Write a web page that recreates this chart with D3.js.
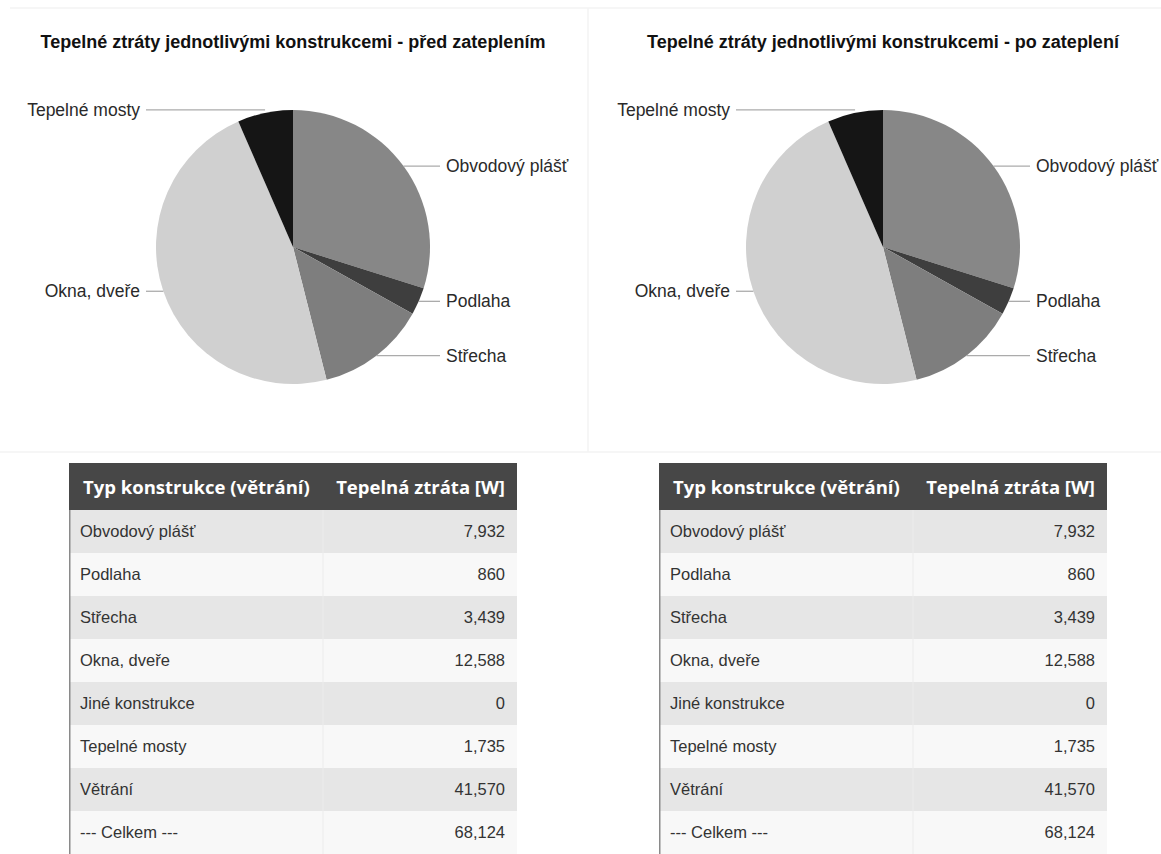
<!DOCTYPE html>
<html>
<head>
<meta charset="utf-8">
<script src="https://cdn.jsdelivr.net/npm/d3@7"></script>
<style>
  body { margin: 0; background: #fff; }
  svg { display: block; }
</style>
</head>
<body>
<svg id="chart" width="1161" height="854"></svg>
<script>
// data
var categories = ["Obvodový plášť", "Podlaha", "Střecha", "Okna, dveře", "Jiné konstrukce", "Tepelné mosty", "Větrání"]
var lossBefore = [7932, 860, 3439, 12588, 0, 1735, 41570]
var lossAfter = [7932, 860, 3439, 12588, 0, 1735, 41570]
var pieCategories = ["Obvodový plášť", "Podlaha", "Střecha", "Okna, dveře", "Jiné konstrukce", "Tepelné mosty"]
var sliceColors = ["#878787", "#3e3e3e", "#7e7e7e", "#d0d0d0", "#aaaaaa", "#151515"]
var titles = ["Tepelné ztráty jednotlivými konstrukcemi - před zateplením", "Tepelné ztráty jednotlivými konstrukcemi - po zateplení"]
var headers = ["Typ konstrukce (větrání)", "Tepelná ztráta [W]"]
var totalLabel = "--- Celkem ---"

var svg = d3.select("#chart")
var fmt = d3.format(",")

// faint card borders
var frame = svg.append("g").attr("stroke", "#f3f3f3").attr("stroke-width", 1.5).attr("fill", "none")
frame.append("line").attr("x1", 10).attr("x2", 1161).attr("y1", 8).attr("y2", 8)
frame.append("line").attr("x1", 588).attr("x2", 588).attr("y1", 8).attr("y2", 452)
frame.append("line").attr("x1", 0).attr("x2", 1161).attr("y1", 452).attr("y2", 452)

var panels = [
  {dx: 0, title: titles[0], values: lossBefore},
  {dx: 590, title: titles[1], values: lossAfter}
]

var pie = d3.pie().sort(null).value(function(d) { return d.value })
var radius = 137
var arc = d3.arc().innerRadius(0).outerRadius(radius)

panels.forEach(function(p) {
  var cx = 293 + p.dx, cy = 247

  svg.append("text")
    .attr("x", cx)
    .attr("y", 48)
    .attr("text-anchor", "middle")
    .attr("font-family", "Liberation Sans, Arial, sans-serif")
    .attr("font-weight", "bold")
    .attr("font-size", 18)
    .attr("fill", "#111")
    .text(p.title)

  var slices = pieCategories.map(function(c, i) {
    return {name: c, value: p.values[categories.indexOf(c)], color: sliceColors[i]}
  })
  var arcs = pie(slices)

  var g = svg.append("g").attr("transform", `translate(${cx},${cy})`)

  g.selectAll("path")
    .data(arcs)
    .enter().append("path")
    .attr("d", arc)
    .attr("fill", function(d) { return d.data.color })

  // labels with leader lines
  var labeled = arcs.filter(function(d) { return d.value > 0 })
  labeled.forEach(function(d) {
    var mid = (d.startAngle + d.endAngle) / 2
    var px = Math.sin(mid) * radius
    var py = -Math.cos(mid) * radius
    var right = mid < Math.PI
    var lineEnd = right ? 147 : -147
    var textX = right ? 153 : -153
    if (d.data.name == "Tepelné mosty") py -= 3
    g.append("line")
      .attr("x1", px).attr("y1", py)
      .attr("x2", lineEnd).attr("y2", py)
      .attr("stroke", "#ababab")
      .attr("stroke-width", 1.3)
    g.append("text")
      .attr("x", textX)
      .attr("y", py)
      .attr("dy", "0.35em")
      .attr("text-anchor", right ? "start" : "end")
      .attr("font-family", "Liberation Sans, Arial, sans-serif")
      .attr("font-size", 17.5)
      .attr("fill", "#2a2a2a")
      .text(d.data.name)
  })

  // table
  var tx = 69 + p.dx, tw = 448, split = 254
  var rows = categories.map(function(c, i) { return {name: c, value: p.values[i]} })
  rows.push({name: totalLabel, value: d3.sum(p.values)})

  var y = d3.scaleBand()
    .domain(d3.range(rows.length))
    .range([510, 854])

  var t = svg.append("g")

  t.append("rect")
    .attr("x", tx).attr("y", 463)
    .attr("width", tw).attr("height", 47)
    .attr("fill", "#474747")

  t.append("text")
    .attr("x", tx + 14).attr("y", 487).attr("dy", "0.36em")
    .attr("font-family", "Open Sans, sans-serif").attr("font-weight", "bold")
    .attr("font-size", 18.5).attr("fill", "#fff")
    .text(headers[0])
  t.append("text")
    .attr("x", tx + tw - 12).attr("y", 487).attr("dy", "0.36em")
    .attr("text-anchor", "end")
    .attr("font-family", "Open Sans, sans-serif").attr("font-weight", "bold")
    .attr("font-size", 18.5).attr("fill", "#fff")
    .text(headers[1])

  var row = t.selectAll(".row")
    .data(rows)
    .enter().append("g")
    .attr("class", "row")
    .attr("transform", function(d, i) { return `translate(${tx},${y(i)})` })

  row.append("rect")
    .attr("width", tw)
    .attr("height", y.bandwidth())
    .attr("fill", function(d, i) { return i % 2 == 0 ? "#e6e6e6" : "#f8f8f8" })

  row.append("line")
    .attr("x1", split).attr("x2", split)
    .attr("y1", 0).attr("y2", y.bandwidth())
    .attr("stroke", "#ececec")

  row.append("text")
    .attr("x", 11)
    .attr("y", y.bandwidth() / 2)
    .attr("dy", "0.36em")
    .attr("font-family", "Liberation Sans, Arial, sans-serif")
    .attr("font-size", 16.5)
    .attr("fill", "#333")
    .text(function(d) { return d.name })

  row.append("text")
    .attr("x", tw - 12)
    .attr("y", y.bandwidth() / 2)
    .attr("dy", "0.36em")
    .attr("text-anchor", "end")
    .attr("font-family", "Liberation Sans, Arial, sans-serif")
    .attr("font-size", 16.5)
    .attr("fill", "#333")
    .text(function(d) { return fmt(d.value) })

  // darker left edge of the table body
  t.append("line")
    .attr("x1", tx + 0.75).attr("x2", tx + 0.75)
    .attr("y1", 510).attr("y2", 854)
    .attr("stroke", "#8a8a8a")
    .attr("stroke-width", 1.5)
})
</script>
</body>
</html>
